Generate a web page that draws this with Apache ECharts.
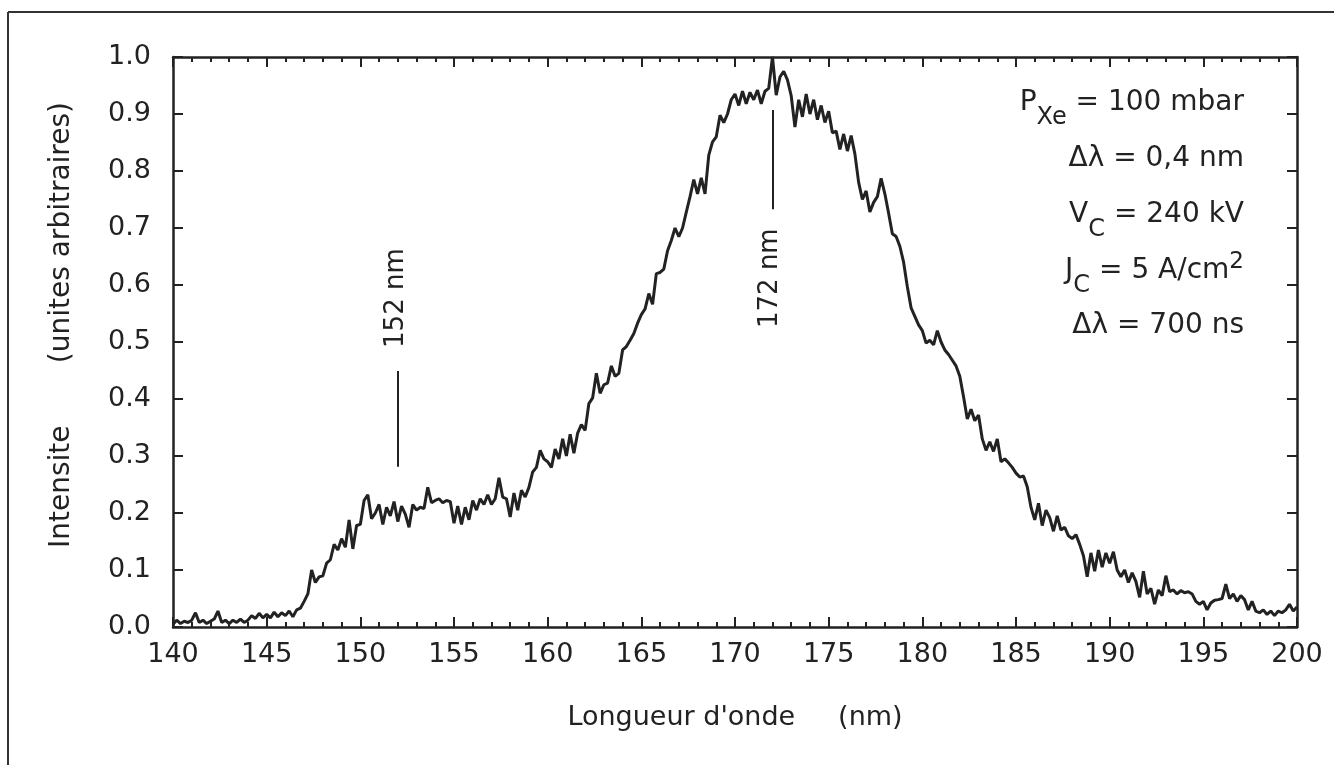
<!DOCTYPE html>
<html>
<head>
<meta charset="utf-8">
<script src="https://cdn.jsdelivr.net/npm/echarts@6/dist/echarts.min.js"></script>
<style>
html,body{margin:0;padding:0;background:#fff;}
#chart{width:1334px;height:765px;}
</style>
</head>
<body>
<div id="chart"></div>
<script>
// Wavelength grid (nm): start and step of the recorded spectrum
const wavelengthStart = 140;
const wavelengthStep = 0.2;
// Intensity (arbitrary units), one row per nm: 140.0, 140.2, 140.4, 140.6, 140.8 ...
const intensity = [
  0.005, 0.012, 0.006, 0.010, 0.008,
  0.012, 0.025, 0.008, 0.012, 0.006,
  0.010, 0.014, 0.028, 0.008, 0.012,
  0.006, 0.012, 0.008, 0.014, 0.008,
  0.012, 0.020, 0.015, 0.024, 0.016,
  0.022, 0.016, 0.026, 0.018, 0.025,
  0.020, 0.028, 0.018, 0.030, 0.033,
  0.045, 0.058, 0.100, 0.078, 0.088,
  0.090, 0.112, 0.118, 0.145, 0.135,
  0.155, 0.140, 0.188, 0.137, 0.178,
  0.180, 0.222, 0.232, 0.190, 0.200,
  0.215, 0.180, 0.210, 0.195, 0.220,
  0.185, 0.212, 0.198, 0.175, 0.215,
  0.205, 0.210, 0.208, 0.245, 0.218,
  0.222, 0.225, 0.218, 0.222, 0.220,
  0.182, 0.212, 0.180, 0.210, 0.188,
  0.222, 0.205, 0.225, 0.215, 0.232,
  0.215, 0.225, 0.262, 0.228, 0.225,
  0.193, 0.235, 0.205, 0.240, 0.228,
  0.245, 0.272, 0.280, 0.310, 0.295,
  0.290, 0.280, 0.312, 0.295, 0.330,
  0.300, 0.338, 0.305, 0.340, 0.355,
  0.345, 0.392, 0.402, 0.445, 0.410,
  0.425, 0.428, 0.458, 0.440, 0.445,
  0.486, 0.492, 0.503, 0.515, 0.533,
  0.548, 0.558, 0.585, 0.566, 0.620,
  0.622, 0.628, 0.660, 0.678, 0.700,
  0.685, 0.700, 0.728, 0.755, 0.785,
  0.760, 0.788, 0.760, 0.828, 0.851,
  0.860, 0.898, 0.885, 0.900, 0.925,
  0.935, 0.915, 0.940, 0.918, 0.938,
  0.925, 0.942, 0.918, 0.940, 0.945,
  1.000, 0.933, 0.965, 0.975, 0.960,
  0.932, 0.877, 0.925, 0.895, 0.935,
  0.900, 0.925, 0.890, 0.915, 0.885,
  0.905, 0.867, 0.870, 0.838, 0.865,
  0.835, 0.862, 0.830, 0.780, 0.750,
  0.765, 0.728, 0.745, 0.755, 0.787,
  0.760, 0.726, 0.690, 0.685, 0.668,
  0.640, 0.597, 0.560, 0.545, 0.530,
  0.520, 0.498, 0.503, 0.495, 0.520,
  0.500, 0.486, 0.478, 0.468, 0.458,
  0.440, 0.404, 0.365, 0.382, 0.362,
  0.372, 0.330, 0.310, 0.325, 0.308,
  0.330, 0.290, 0.295, 0.288, 0.280,
  0.270, 0.263, 0.265, 0.246, 0.210,
  0.188, 0.217, 0.178, 0.205, 0.192,
  0.168, 0.195, 0.170, 0.175, 0.160,
  0.155, 0.162, 0.145, 0.125, 0.088,
  0.130, 0.098, 0.135, 0.105, 0.130,
  0.112, 0.132, 0.100, 0.088, 0.100,
  0.078, 0.095, 0.080, 0.052, 0.098,
  0.058, 0.068, 0.040, 0.065, 0.055,
  0.090, 0.062, 0.065, 0.058, 0.064,
  0.060, 0.062, 0.058, 0.045, 0.040,
  0.045, 0.030, 0.042, 0.047, 0.048,
  0.050, 0.075, 0.050, 0.058, 0.045,
  0.055, 0.048, 0.030, 0.045, 0.028,
  0.025, 0.030, 0.022, 0.028, 0.020,
  0.028, 0.025, 0.030, 0.040, 0.028,
  0.035
];
// Axis ranges and ticks
const xMin = 140, xMax = 200, xInterval = 5;
const yMin = 0, yMax = 1, yInterval = 0.1;
// Peak annotations: wavelength, marker line from y0 to y1, label centre at textY
const annotations = [
  { wl: 152, y0: 0.281, y1: 0.449, textY: 0.577, text: '152 nm' },
  { wl: 172, y0: 0.733, y1: 0.907, textY: 0.612, text: '172 nm' }
];
// Experimental conditions (rich text lines)
const conditions = [
  '{n|P}{sub|Xe}{n| = 100 mbar}',
  '{n|\u0394\u03bb = 0,4 nm}',
  '{n|V}{sub|C}{n| = 240 kV}',
  '{n|J}{sub|C}{n| = 5 A/cm}{sup|2}',
  '{n|\u0394\u03bb = 700 ns}'
];
const xAxisName = "Longueur d'onde     (nm)";
const yAxisName = 'Intensite       (unites arbitraires)';

const FONT = 'DejaVu Sans';
const INK = '#222222';
const data = intensity.map((v, i) => [+(wavelengthStart + i * wavelengthStep).toFixed(1), v]);

const chart = echarts.init(document.getElementById('chart'), null, { renderer: 'canvas' });

const tickStyle = { color: INK, width: 2 };
const baseX = {
  type: 'value', min: xMin, max: xMax, interval: xInterval,
  axisLine: { show: true, onZero: false, lineStyle: { color: INK, width: 2.5 } },
  axisTick: { show: true, inside: true, length: 10, lineStyle: tickStyle },
  minorTick: { show: true, splitNumber: 5, length: 5, lineStyle: tickStyle },
  splitLine: { show: false }, minorSplitLine: { show: false }
};
const baseY = {
  type: 'value', min: yMin, max: yMax, interval: yInterval,
  axisLine: { show: true, onZero: false, lineStyle: { color: INK, width: 2.5 } },
  axisTick: { show: true, inside: true, length: 10, lineStyle: tickStyle },
  splitLine: { show: false }
};

chart.setOption({
  backgroundColor: '#ffffff',
  animation: false,
  grid: { left: 173, right: 37, top: 57, bottom: 138, containLabel: false },
  xAxis: [
    Object.assign({}, baseX, {
      position: 'bottom',
      axisLabel: { show: true, margin: 14, color: INK, fontFamily: FONT, fontSize: 27 },
      name: xAxisName, nameLocation: 'middle', nameGap: 77,
      nameTextStyle: { color: INK, fontFamily: FONT, fontSize: 27 }
    }),
    Object.assign({}, baseX, { position: 'top', axisLabel: { show: false } })
  ],
  yAxis: [
    Object.assign({}, baseY, {
      position: 'left',
      axisLabel: { show: true, margin: 22, color: INK, fontFamily: FONT, fontSize: 27,
        formatter: v => v.toFixed(1) }
    }),
    Object.assign({}, baseY, { position: 'right', axisLabel: { show: false } })
  ],
  series: [{
    type: 'line', xAxisIndex: 0, yAxisIndex: 0,
    data: data, showSymbol: false, symbol: 'none', smooth: false,
    lineStyle: { color: INK, width: 3 },
    markLine: {
      silent: true, symbol: 'none', label: { show: false },
      lineStyle: { color: INK, width: 2, type: 'solid' },
      data: annotations.map(a => [{ coord: [a.wl, a.y0] }, { coord: [a.wl, a.y1] }])
    }
  }]
});

// Graphics: frame, y axis name, annotation labels, conditions block
const graphics = [];
graphics.push({ type: 'line', shape: { x1: 8, y1: 12, x2: 1340, y2: 12 }, style: { stroke: '#333', lineWidth: 2 }, silent: true });
graphics.push({ type: 'line', shape: { x1: 8, y1: 12, x2: 8, y2: 770 }, style: { stroke: '#333', lineWidth: 2 }, silent: true });
graphics.push({
  type: 'text', x: 62, y: 325, rotation: Math.PI / 2, silent: true,
  style: { text: yAxisName, font: '28px "' + FONT + '"', fill: INK, align: 'center', verticalAlign: 'middle' }
});
annotations.forEach(a => {
  const p = chart.convertToPixel({ xAxisIndex: 0, yAxisIndex: 0 }, [a.wl, a.textY]);
  graphics.push({
    type: 'text', x: p[0] - 2, y: p[1], rotation: Math.PI / 2, silent: true,
    style: { text: a.text, font: '26px "' + FONT + '"', fill: INK, align: 'center', verticalAlign: 'middle' }
  });
});
const condTop = 103, condStep = 55.8;
conditions.forEach((t, i) => {
  graphics.push({
    type: 'text', x: 1244, y: condTop + i * condStep, silent: true,
    style: {
      text: t, align: 'right', verticalAlign: 'middle', fill: INK,
      rich: {
        n: { fontFamily: FONT, fontSize: 28, fill: INK, color: INK },
        sub: { fontFamily: FONT, fontSize: 24, fill: INK, color: INK, padding: [30, 0, 0, 0] },
        sup: { fontFamily: FONT, fontSize: 23, fill: INK, color: INK, padding: [0, 0, 16, 0] }
      }
    }
  });
});
chart.setOption({ graphic: graphics });
</script>
</body>
</html>
